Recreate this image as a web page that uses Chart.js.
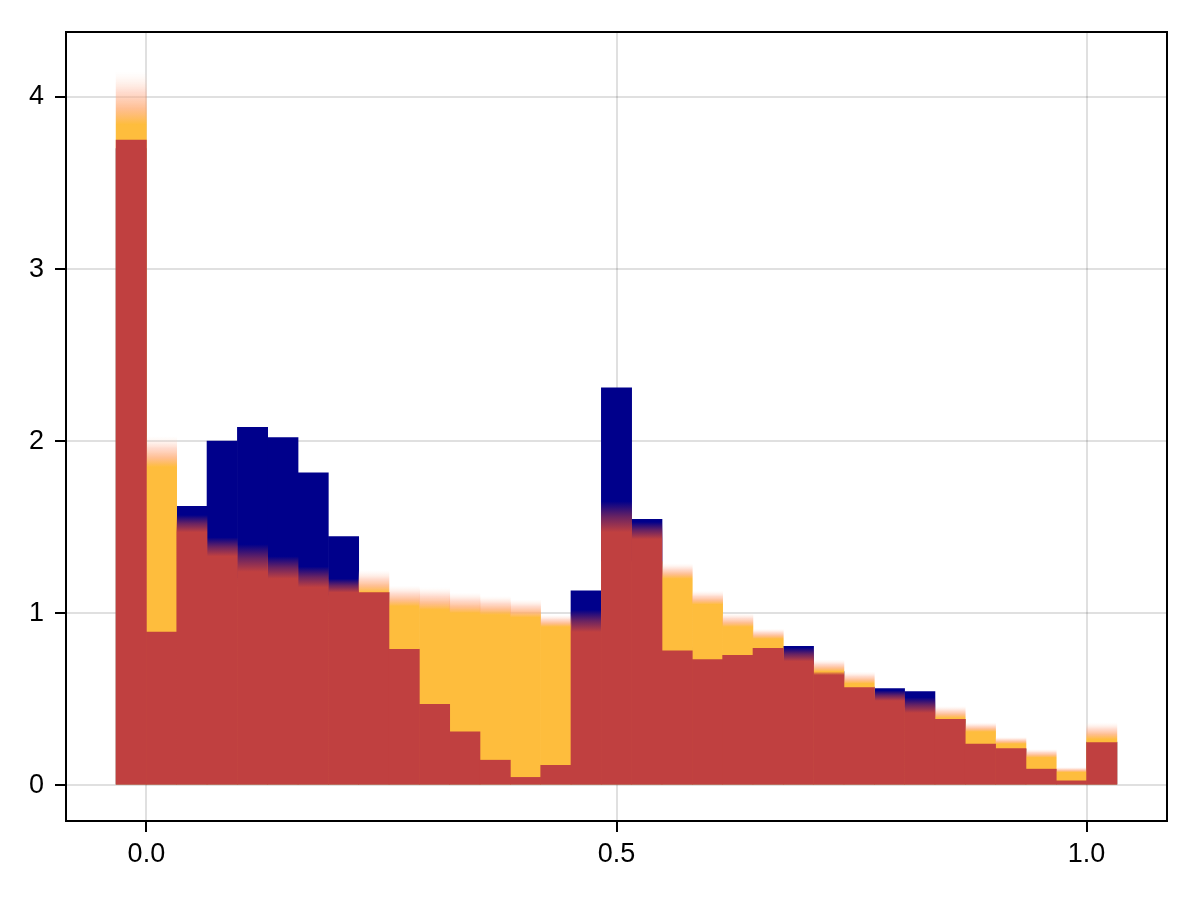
<!DOCTYPE html>
<html>
<head>
<meta charset="utf-8">
<script src="https://cdn.jsdelivr.net/npm/chart.js@4"></script>
<style>
  html, body { margin: 0; padding: 0; background: #fff; }
  #wrap { width: 1200px; height: 900px; }
</style>
</head>
<body>
<div id="wrap"><canvas id="histChart" width="1200" height="900"></canvas></div>
<script>
// bin centres (bin width 1/31)
const binCenters = [-0.0161, 0.0161, 0.0484, 0.0806, 0.1129, 0.1452, 0.1774, 0.2097, 0.2419, 0.2742,
  0.3065, 0.3387, 0.3710, 0.4032, 0.4355, 0.4677, 0.5000, 0.5323, 0.5645, 0.5968, 0.6290, 0.6613,
  0.6935, 0.7258, 0.7581, 0.7903, 0.8226, 0.8548, 0.8871, 0.9194, 0.9516, 0.9839, 1.0161];

const navy = [3.70, 1.50, 1.62, 2.00, 2.08, 2.02, 1.815, 1.445, 1.12, 0.80, 0.50, 0.32, 0.15, 0.05, 0.12,
  1.13, 2.31, 1.545, 0.80, 0.74, 0.77, 0.80, 0.807, 0.66, 0.57, 0.561, 0.544, 0.383, 0.24, 0.21, 0.09, 0.025, 0.25];

// orange: solid level and top of the fuzzy band
const orange = [3.84, 1.85, 1.30, 1.20, 1.15, 1.10, 1.10, 1.00, 1.12, 1.04, 1.02, 1.00, 0.99, 0.975, 0.92,
  0.85, 1.30, 1.30, 1.20, 1.05, 0.92, 0.85, 0.70, 0.66, 0.59, 0.45, 0.40, 0.39, 0.31, 0.24, 0.16, 0.075, 0.267];
const orangeHi = [4.15, 2.03, 1.30, 1.20, 1.15, 1.10, 1.10, 1.00, 1.25, 1.16, 1.15, 1.12, 1.10, 1.08, 0.99,
  0.85, 1.30, 1.30, 1.29, 1.13, 1.00, 0.91, 0.70, 0.73, 0.66, 0.45, 0.40, 0.46, 0.365, 0.28, 0.21, 0.105, 0.365];

// red: solid level and top of the fuzzy band
const red = [3.75, 0.89, 1.47, 1.33, 1.24, 1.20, 1.15, 1.12, 1.12, 0.79, 0.47, 0.31, 0.145, 0.045, 0.115,
  0.89, 1.47, 1.43, 0.78, 0.73, 0.755, 0.795, 0.72, 0.64, 0.567, 0.49, 0.42, 0.383, 0.238, 0.213, 0.093, 0.025, 0.248];
const redHi = [3.75, 0.89, 1.57, 1.44, 1.40, 1.33, 1.27, 1.20, 1.12, 0.79, 0.47, 0.31, 0.145, 0.045, 0.115,
  1.02, 1.65, 1.53, 0.78, 0.73, 0.755, 0.795, 0.80, 0.66, 0.567, 0.55, 0.51, 0.383, 0.238, 0.213, 0.093, 0.025, 0.248];

const xTicks = [0, 0.5, 1.0];
const yTicks = [0, 1, 2, 3, 4];

const NAVY = 'rgb(0,0,139)';
const ORANGE = 'rgb(254,189,61)';
const RED = 'rgb(192,64,64)';

function pts(vals) {
  return binCenters.map((x, i) => ({ x: x, y: vals[i] }));
}

// gradient from solid level (bottom) to top of the band
function fuzzy(solid, hi, solidColor, stops) {
  return c => {
    const i = c.dataIndex;
    if (i === undefined || !c.chart.chartArea) return solidColor;
    const ys = c.chart.scales.y;
    const p0 = ys.getPixelForValue(solid[i]);
    const p1 = ys.getPixelForValue(hi[i]);
    if (p0 - p1 < 1) return solidColor;
    const g = c.chart.ctx.createLinearGradient(0, p0, 0, p1);
    stops.forEach(s => g.addColorStop(s[0], s[1]));
    return g;
  };
}

const frame = {
  id: 'frame',
  afterDatasetsDraw(chart) {
    const a = chart.chartArea, ctx = chart.ctx;
    ctx.save();
    ctx.strokeStyle = '#000';
    ctx.lineWidth = 2;
    ctx.strokeRect(a.left, a.top, a.right - a.left, a.bottom - a.top);
    ctx.restore();
  }
};

const font = { family: '"Liberation Sans", Arial, sans-serif', size: 27 };

new Chart(document.getElementById('histChart'), {
  type: 'bar',
  data: {
    datasets: [
      {
        label: 'red', data: pts(redHi), order: 1, grouped: false,
        backgroundColor: fuzzy(red, redHi, RED, [[0, RED], [0.5, 'rgba(192,64,64,0.55)'], [1, 'rgba(192,64,64,0)']]),
        barPercentage: 1, categoryPercentage: 1, borderWidth: 0
      },
      {
        label: 'orange', data: pts(orangeHi), order: 2, grouped: false,
        backgroundColor: fuzzy(orange, orangeHi, ORANGE, [[0, ORANGE], [0.3, 'rgba(255,170,110,0.75)'],
          [0.6, 'rgba(255,175,145,0.45)'], [1, 'rgba(255,225,210,0)']]),
        barPercentage: 1, categoryPercentage: 1, borderWidth: 0
      },
      {
        label: 'navy', data: pts(navy), order: 3, grouped: false,
        backgroundColor: NAVY,
        barPercentage: 1, categoryPercentage: 1, borderWidth: 0
      }
    ]
  },
  options: {
    responsive: false,
    animation: false,
    layout: { padding: { top: 32, right: 33, left: 0, bottom: 0 } },
    plugins: { legend: { display: false }, tooltip: { enabled: false } },
    scales: {
      x: {
        type: 'linear', min: -0.0855, max: 1.0855, offset: false,
        afterBuildTicks: s => { s.ticks = xTicks.map(v => ({ value: v })); },
        afterFit: s => { s.height = 79; },
        border: { display: false },
        grid: { offset: false, color: 'rgba(0,0,0,0.12)', lineWidth: 2, drawTicks: true,
          tickLength: 11, tickColor: '#000', tickWidth: 2 },
        ticks: { color: '#000', font: font, padding: 6, maxRotation: 0,
          callback: v => v.toFixed(1) }
      },
      y: {
        type: 'linear', min: -0.2085, max: 4.378,
        afterBuildTicks: s => { s.ticks = yTicks.map(v => ({ value: v })); },
        afterFit: s => { s.width = 66; },
        border: { display: false },
        grid: { color: 'rgba(0,0,0,0.12)', lineWidth: 2, drawTicks: true,
          tickLength: 11, tickColor: '#000', tickWidth: 2 },
        ticks: { color: '#000', font: font, padding: 11, callback: v => String(v) }
      }
    }
  },
  plugins: [frame]
});
</script>
</body>
</html>
